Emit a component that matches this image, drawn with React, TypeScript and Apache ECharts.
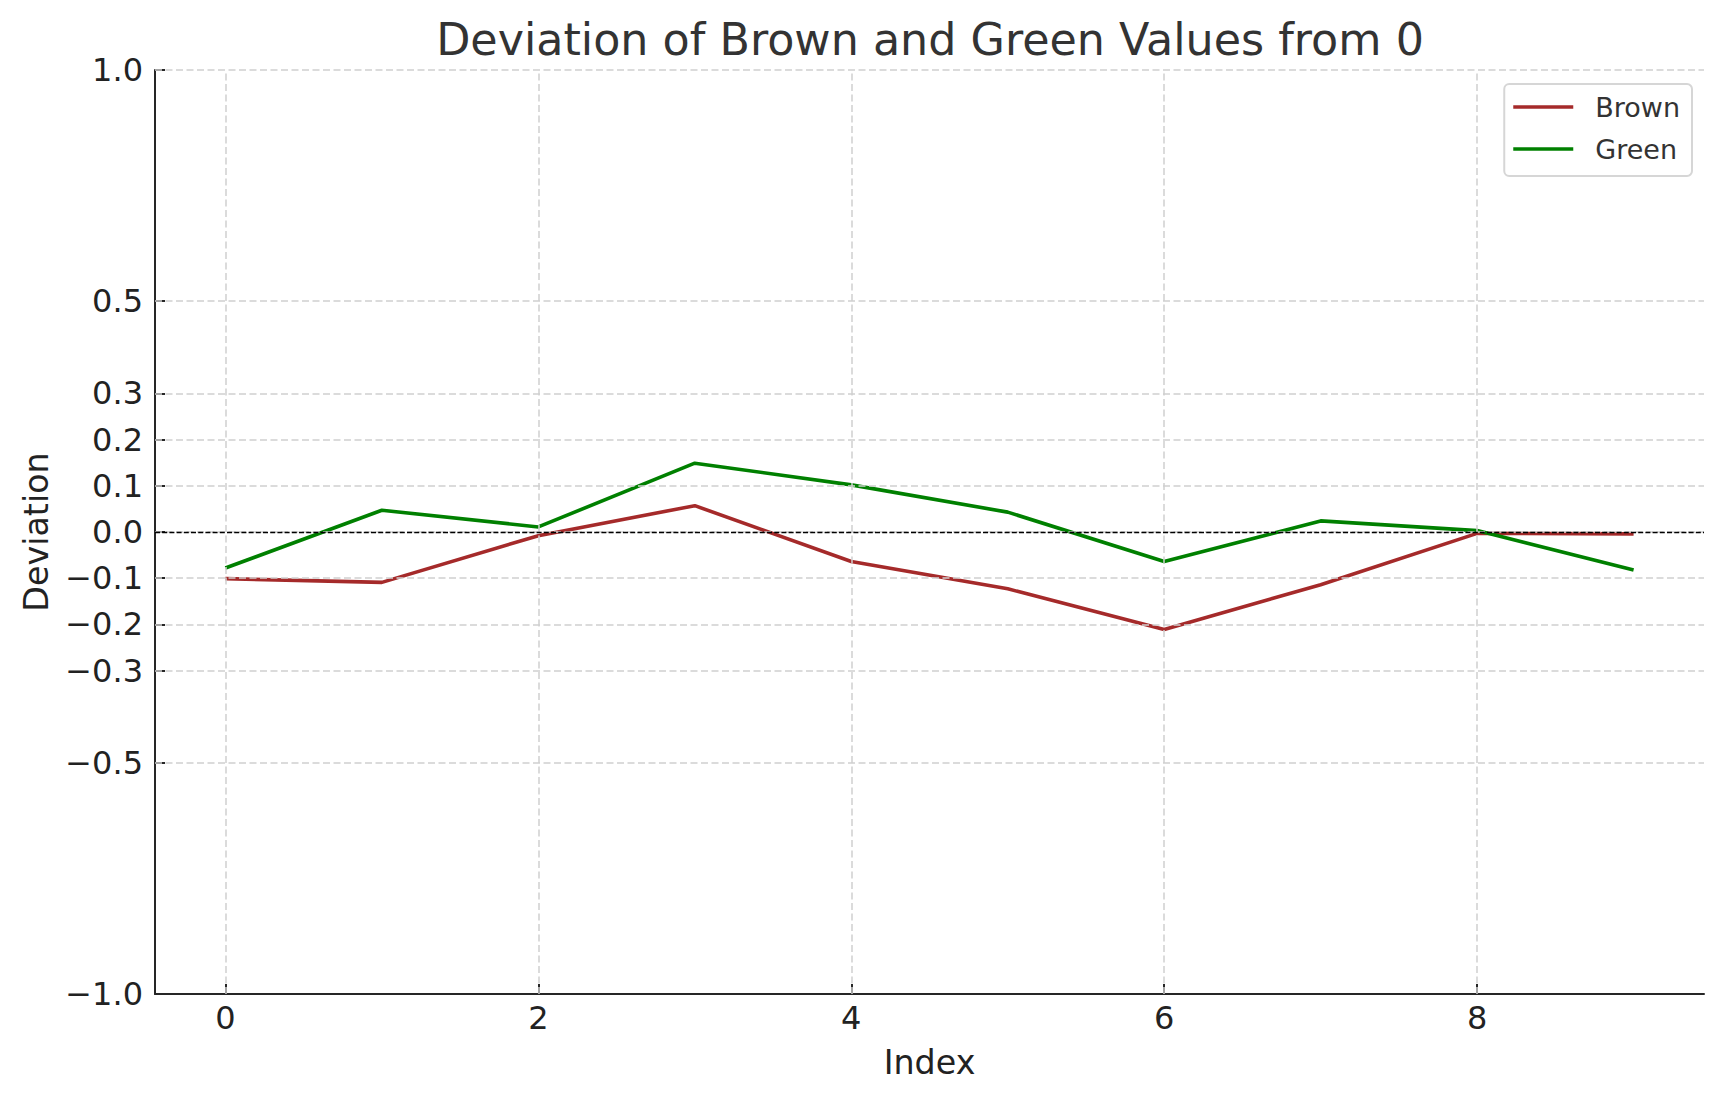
import React, { useEffect, useRef } from "react";
import * as echarts from "echarts";

const indices = [0, 1, 2, 3, 4, 5, 6, 7, 8, 9];
const brownValues = [-0.101, -0.109, -0.008, 0.057, -0.064, -0.123, -0.211, -0.114, -0.003, -0.004];
const greenValues = [-0.078, 0.047, 0.011, 0.149, 0.102, 0.043, -0.064, 0.024, 0.003, -0.082];
const xTicks = [0, 2, 4, 6, 8];
const yTicks = [-1.0, -0.5, -0.3, -0.2, -0.1, 0.0, 0.1, 0.2, 0.3, 0.5, 1.0];
const titleText = "Deviation of Brown and Green Values from 0";

const FONT = "DejaVu Sans";

function fmtY(v: number): string {
  const r = Math.round(v * 10) / 10;
  if (r < 0) return "\u2212" + Math.abs(r).toFixed(1);
  return Math.abs(r).toFixed(1);
}

export default function App() {
  const ref = useRef<HTMLDivElement>(null);
  useEffect(() => {
    if (!ref.current) return;
    const chart = echarts.init(ref.current, undefined, { renderer: "svg" });
    const gridLineStyle = { color: "#cfcfcf", width: 1.5, type: [7, 3.5] as any };
    chart.setOption({
      animation: false,
      backgroundColor: "#ffffff",
      textStyle: { fontFamily: FONT },
      grid: { left: 155, right: 21, top: 70, bottom: 107, containLabel: false },
      graphic: [
        {
          type: "text",
          x: 930,
          y: 39,
          silent: true,
          style: {
            text: titleText,
            fontSize: 44.4,
            fontFamily: FONT,
            fill: "#333333",
            align: "center",
            verticalAlign: "middle",
          },
        },
      ],
      legend: {
        data: ["Brown", "Green"],
        orient: "vertical",
        right: 33,
        top: 84,
        icon: "rect",
        itemWidth: 60,
        itemHeight: 3.5,
        itemGap: 12,
        padding: [8, 12, 12, 9],
        borderColor: "#d6d6d6",
        borderWidth: 2,
        borderRadius: 5,
        backgroundColor: "rgba(255,255,255,0.85)",
        selectedMode: false,
        textStyle: {
          fontFamily: FONT,
          fontSize: 27,
          color: "#333333",
          lineHeight: 30,
          padding: [0, 0, 0, 17],
        },
      },
      xAxis: {
        type: "value",
        min: -0.45,
        max: 9.45,
        name: "Index",
        nameLocation: "middle",
        nameGap: 52,
        nameTextStyle: { fontFamily: FONT, fontSize: 33.3, color: "#222222" },
        axisLine: { show: true, onZero: false, lineStyle: { color: "#262626", width: 2 } },
        axisTick: {
          show: true,
          inside: true,
          length: 10,
          customValues: xTicks,
          lineStyle: { color: "#262626", width: 2 },
        },
        axisLabel: {
          show: true,
          customValues: xTicks,
          margin: 8,
          fontFamily: FONT,
          fontSize: 32,
          color: "#222222",
          formatter: (v: number) => String(Math.round(v)),
        },
        splitLine: { show: false },
      },
      yAxis: {
        type: "value",
        min: -1,
        max: 1,
        name: "Deviation",
        nameLocation: "middle",
        nameGap: 102,
        nameTextStyle: { fontFamily: FONT, fontSize: 33.3, color: "#222222" },
        axisLine: { show: true, onZero: false, lineStyle: { color: "#262626", width: 2 } },
        axisTick: {
          show: true,
          inside: true,
          length: 10,
          customValues: yTicks,
          lineStyle: { color: "#262626", width: 2 },
        },
        axisLabel: {
          show: true,
          customValues: yTicks,
          margin: 12,
          fontFamily: FONT,
          fontSize: 32,
          color: "#222222",
          formatter: (v: number) => fmtY(v),
        },
        splitLine: { show: false },
      },
      series: [
        {
          name: "gridlines",
          type: "line",
          data: [],
          z: 1,
          silent: true,
          markLine: {
            silent: true,
            symbol: ["none", "none"],
            label: { show: false },
            emphasis: { disabled: true },
            lineStyle: gridLineStyle,
            data: [
              ...yTicks.filter((v) => v > -1).map((v) => ({ yAxis: v, lineStyle: gridLineStyle })),
              ...xTicks.map((v) => ({ xAxis: v, lineStyle: gridLineStyle })),
            ],
          },
        },
        {
          name: "Brown",
          type: "line",
          data: indices.map((x, i) => [x, brownValues[i]]),
          showSymbol: false,
          symbol: "none",
          z: 2,
          color: "#a52a2a",
          lineStyle: { color: "#a52a2a", width: 3.6 },
          emphasis: { disabled: true },
        },
        {
          name: "Green",
          type: "line",
          data: indices.map((x, i) => [x, greenValues[i]]),
          showSymbol: false,
          symbol: "none",
          z: 2,
          color: "#008000",
          lineStyle: { color: "#008000", width: 3.6 },
          emphasis: { disabled: true },
        },
        {
          name: "zeroline",
          type: "line",
          data: [],
          z: 3,
          silent: true,
          markLine: {
            silent: true,
            symbol: ["none", "none"],
            label: { show: false },
            emphasis: { disabled: true },
            lineStyle: { color: "#000000", width: 1.4, type: [5, 2.2] as any },
            data: [{ yAxis: 0 }],
          },
        },
      ],
    });
    return () => {
      chart.dispose();
    };
  }, []);
  return (
    <div
      ref={ref}
      style={{ position: "absolute", left: 0, top: 0, width: 1725, height: 1101 }}
    />
  );
}
